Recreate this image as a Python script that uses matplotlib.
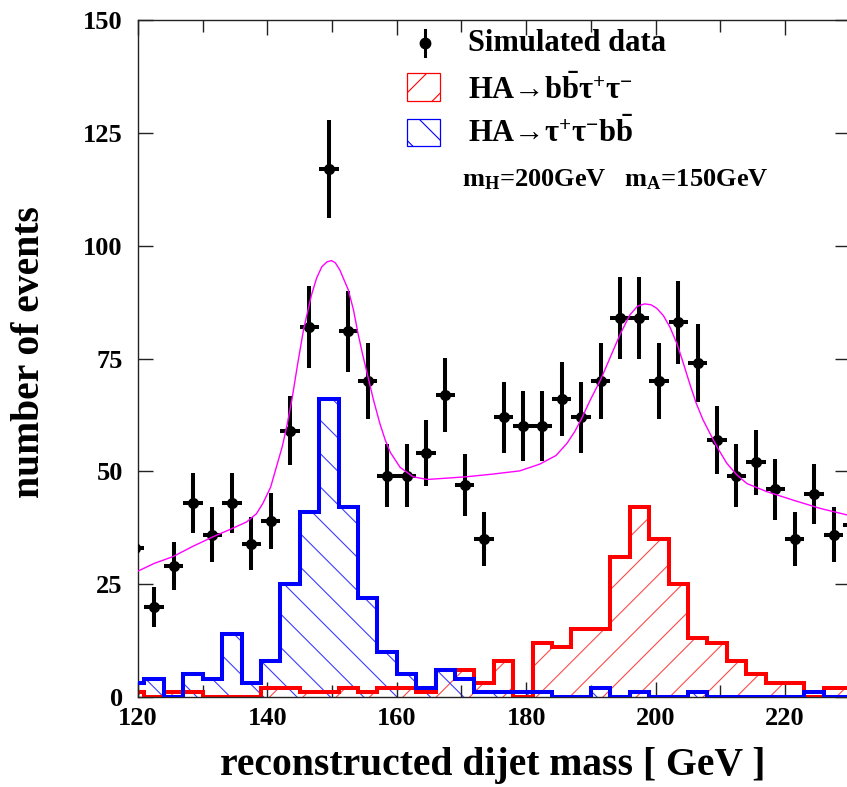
import numpy as np
import matplotlib
matplotlib.use("Agg")
import matplotlib.pyplot as plt
from matplotlib.patches import Rectangle
from matplotlib.ticker import MultipleLocator

# fonts: bold Times-like everywhere, math in the same face
plt.rcParams["font.family"] = ["Liberation Serif", "DejaVu Serif"]
plt.rcParams["font.weight"] = "bold"
plt.rcParams["axes.labelweight"] = "bold"
plt.rcParams["mathtext.fontset"] = "custom"
plt.rcParams["mathtext.rm"] = "Liberation Serif:bold"
plt.rcParams["mathtext.bf"] = "Liberation Serif:bold"
plt.rcParams["mathtext.it"] = "Liberation Serif:bold"
plt.rcParams["mathtext.default"] = "bf"
plt.rcParams["hatch.linewidth"] = 0.8

# 3 GeV bins
bin_edges = np.arange(118, 233, 3)

sim_data = [33, 20, 29, 43, 36, 43, 34, 39, 59, 82, 117, 81, 70, 49, 49, 54, 67, 47, 35,
            62, 60, 60, 66, 62, 70, 84, 84, 70, 83, 74, 57, 49, 52, 46, 35, 45, 36, 38]

# HA -> b bbar tau+ tau-  (H peak)
hist_bbtt = [1, 0, 1, 1, 0, 0, 0, 2, 2, 1, 1, 2, 1, 2, 2, 1, 6, 6, 3,
             8, 0, 12, 11, 15, 15, 31, 42, 35, 25, 13, 12, 8, 5, 3, 3, 0, 2, 2]

# HA -> tau+ tau- b bbar  (A peak)
hist_ttbb = [3, 4, 0, 5, 4, 14, 3, 8, 25, 41, 66, 42, 22, 10, 5, 2, 6, 4, 1,
             1, 1, 1, 0, 0, 2, 0, 1, 0, 0, 1, 0, 0, 0, 0, 0, 1, 0, 0]

# fitted signal + background curve
fit_x = [120.0, 122.5, 125.4, 128.5, 131.6, 134.5, 136.8, 138.3, 139.3, 140.5,
         141.5, 142.3, 143.0, 143.8, 144.7, 145.6, 146.8, 147.6, 148.4, 149.2,
         149.9, 150.5, 151.2, 152.5, 153.3, 154.0, 154.7, 155.4, 156.4, 157.4,
         158.2, 159.0, 160.5, 162.5, 164.7, 167.8, 170.8, 174.9, 179.0, 182.1,
         184.6, 186.3, 187.5, 188.5, 189.9, 191.5, 193.0, 194.5, 196.0, 197.2,
         198.3, 199.3, 200.2, 201.2, 202.2, 203.3, 204.3, 205.3, 206.3, 207.3,
         208.4, 209.7, 211.0, 212.5, 214.1, 217.2, 221.3, 225.4, 230.0]
fit_y = [27.9, 29.6, 31.1, 33.4, 35.5, 37.3, 38.8, 40.6, 42.9, 46.5,
         51.5, 55.5, 60.0, 66.0, 74.0, 81.5, 89.0, 92.8, 95.3, 96.4,
         96.7, 96.2, 94.6, 90.2, 85.8, 80.6, 76.0, 71.8, 65.8, 60.5,
         57.0, 54.2, 50.9, 48.8, 48.2, 48.5, 48.8, 49.4, 50.1, 51.6,
         53.5, 56.2, 58.8, 61.5, 65.8, 70.3, 75.3, 80.3, 84.6, 86.6,
         87.1, 86.9, 86.1, 84.5, 82.0, 78.3, 73.9, 69.3, 65.0, 61.5,
         58.4, 54.9, 51.8, 49.3, 47.3, 45.5, 43.6, 41.8, 40.2]

centers = bin_edges[:-1] + 1.5
counts = np.array(sim_data, dtype=float)

fig = plt.figure(figsize=(8.47, 7.87), dpi=100)
ax = fig.add_axes([138 / 847, 90 / 787, 711.7 / 847, 677 / 787])

# hatched fills
ax.stairs(hist_bbtt, bin_edges, fill=True, facecolor="none", edgecolor="#ff4a4a",
          hatch="/", linewidth=0, zorder=1)
ax.stairs(hist_ttbb, bin_edges, fill=True, facecolor="none", edgecolor="#3c3cff",
          hatch="\\", linewidth=0, zorder=1)
# outlines
ax.stairs(hist_bbtt, bin_edges, color="red", linewidth=2.9, zorder=2)
ax.stairs(hist_ttbb, bin_edges, color="blue", linewidth=2.9, zorder=3)

ax.errorbar(centers, counts, yerr=np.sqrt(counts), xerr=1.5, fmt="o", color="black",
            ms=7, elinewidth=2.9, capsize=0, zorder=4)

ax.plot(fit_x, fit_y, color="magenta", linewidth=1.0, zorder=5)

ax.set_xlim(120, 230)
ax.set_ylim(0, 150)

ax.xaxis.set_major_locator(MultipleLocator(20))
ax.xaxis.set_minor_locator(MultipleLocator(10))
ax.yaxis.set_major_locator(MultipleLocator(25))
ax.tick_params(which="both", direction="in", top=True, right=True, width=1.0, color="#222222")
ax.tick_params(axis="x", which="major", length=10.5, pad=7, labelsize=19)
ax.tick_params(axis="x", which="minor", length=8.5)
ax.tick_params(axis="y", which="major", length=10.8, pad=11, labelsize=19)
for side in ax.spines.values():
    side.set_linewidth(1.0)
    side.set_color("#222222")

ax.set_xlabel("reconstructed dijet mass [ GeV ]", fontsize=28.5)
ax.xaxis.set_label_coords(0.499, -0.074)
ax.set_ylabel("number of events", fontsize=28.5)
ax.yaxis.set_label_coords(-0.126, 0.51)

# legend, drawn by hand
tr = ax.transAxes
ax.plot([0.4033], [0.966], "o", color="black", ms=7.5, transform=tr, clip_on=False)
ax.plot([0.4033, 0.4033], [0.947, 0.985], color="black", lw=2.2, transform=tr, clip_on=False)
ax.text(0.4637, 0.966, "Simulated data", transform=tr, fontsize=22, va="center", ha="left")

ax.add_patch(Rectangle((0.378, 0.8804), 0.0464, 0.0413, transform=tr, facecolor="none",
                       edgecolor="red", hatch="/", lw=0.9))
ax.text(0.4637, 0.8966, r"HA→b$\bar{\rm b}\tau^{+}\tau^{-}$", transform=tr,
        fontsize=22, va="center", ha="left")

ax.add_patch(Rectangle((0.378, 0.8139), 0.0464, 0.0399, transform=tr, facecolor="none",
                       edgecolor="blue", hatch="\\", lw=0.9))
ax.text(0.4637, 0.8331, r"HA→$\tau^{+}\tau^{-}$b$\bar{\rm b}$", transform=tr,
        fontsize=22, va="center", ha="left")

ax.text(0.4552, 0.7637, r"m$_{\rm H}$=200GeV   m$_{\rm A}$=150GeV", transform=tr,
        fontsize=19, va="center", ha="left")

fig.savefig("out.png", dpi=100)
